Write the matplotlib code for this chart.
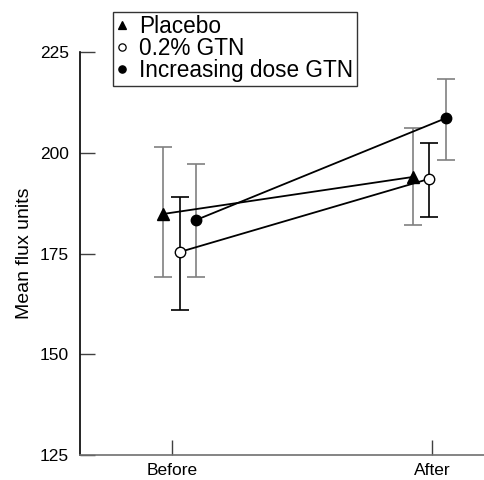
"""Mean flux before and after treatment, three groups."""

import matplotlib
matplotlib.use("Agg")
import matplotlib.pyplot as plt
from matplotlib.lines import Line2D

plt.rcParams["font.family"] = ["Liberation Sans", "DejaVu Sans"]

# data
time_labels = ["Before", "After"]
groups = ["Placebo", "0.2% GTN", "Increasing dose GTN"]
x_pos = {
    "Placebo": [-0.035, 0.927],
    "0.2% GTN": [0.031, 0.988],
    "Increasing dose GTN": [0.092, 1.054],
}
means = {
    "Placebo": [184.8, 194.0],
    "0.2% GTN": [175.4, 193.5],
    "Increasing dose GTN": [183.3, 208.6],
}
err_lo = {
    "Placebo": [169.2, 182.0],
    "0.2% GTN": [161.0, 184.0],
    "Increasing dose GTN": [169.2, 198.2],
}
err_hi = {
    "Placebo": [201.4, 206.1],
    "0.2% GTN": [189.0, 202.4],
    "Increasing dose GTN": [197.2, 218.3],
}
y_ticks = [125, 150, 175, 200, 225]

styles = {
    "Placebo": dict(marker="^", mfc="black", ecolor="#808080", ms=8),
    "0.2% GTN": dict(marker="o", mfc="white", ecolor="black", ms=7.5),
    "Increasing dose GTN": dict(marker="o", mfc="black", ecolor="#808080", ms=7.5),
}

fig = plt.figure(figsize=(4.84, 4.8), dpi=100)
ax = fig.add_axes([80 / 484, 25 / 480, 404 / 484, 403 / 480])

for g in groups:
    st = styles[g]
    xs = x_pos[g]
    ys = means[g]
    yerr = [[m - lo for m, lo in zip(ys, err_lo[g])],
            [hi - m for m, hi in zip(ys, err_hi[g])]]
    ax.errorbar(xs, ys, yerr=yerr, fmt="none", ecolor=st["ecolor"],
                elinewidth=1.2, capsize=6.5, capthick=1.2, zorder=2)
    ax.plot(xs, ys, color="black", linewidth=1.3, zorder=3)
    ax.plot(xs, ys, linestyle="none", marker=st["marker"], ms=st["ms"],
            mfc=st["mfc"], mec="black", mew=1.0, zorder=4)

ax.set_xlim(-0.354, 1.2)
ax.set_ylim(125, 225)
ax.set_xticks([0, 1])
ax.set_xticklabels(time_labels)
ax.set_yticks(y_ticks)
ax.set_ylabel("Mean flux units", fontsize=14, labelpad=5)

for side in ("top", "right"):
    ax.spines[side].set_visible(False)
ax.spines["left"].set_linewidth(1.2)
ax.spines["bottom"].set_linewidth(1.2)
ax.spines["bottom"].set_color("#707070")
ax.tick_params(axis="both", direction="in", length=10.5, width=1.0,
               labelsize=12.5, color="#404040")
ax.tick_params(axis="y", pad=8)
ax.tick_params(axis="x", pad=6)

handles = [
    Line2D([], [], linestyle="none", marker=styles[g]["marker"],
           mfc=styles[g]["mfc"], mec="black", mew=0.9,
           ms=styles[g]["ms"] * 0.7)
    for g in groups
]
leg = fig.legend(handles, groups, loc="upper left",
                 bbox_to_anchor=(113 / 484, 1 - 12 / 480),
                 fontsize=16.3, frameon=True, fancybox=False,
                 handlelength=0.5, handletextpad=0.5, labelspacing=-0.05,
                 borderpad=0.15, borderaxespad=0)
leg.get_frame().set_edgecolor("black")
leg.get_frame().set_linewidth(1.0)

fig.savefig("out.png", dpi=100)
plt.close(fig)
